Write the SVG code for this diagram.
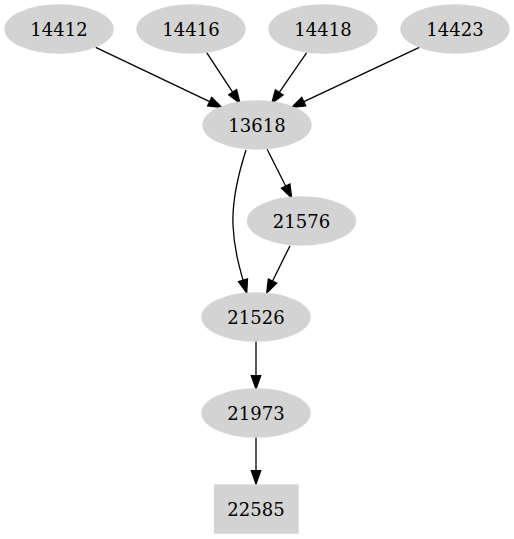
<svg xmlns="http://www.w3.org/2000/svg" width="514" height="539" viewBox="0 0 514 539">
<style>
.n{fill:#d3d3d3;stroke:#d3d3d3;stroke-width:1.3}
.t{font-family:"DejaVu Serif",serif;font-size:18px;fill:#000;text-anchor:middle}
.e{fill:none;stroke:#000;stroke-width:1.3;marker-end:url(#a)}
</style>
<defs>
<marker id="a" markerUnits="userSpaceOnUse" markerWidth="14" markerHeight="10" refX="13.3" refY="4.7" orient="auto" overflow="visible">
<path d="M0,0 L13.3,4.7 L0,9.4 z" fill="#000" stroke="#000" stroke-width="1.3"/>
</marker>
</defs>
<rect width="514" height="539" fill="#fff"/>
<g id="edges">
<path class="e" d="M95.7,47.3 L221.7,107.3"/>
<path class="e" d="M206.7,52.7 L240,103.3"/>
<path class="e" d="M306.7,52.7 L271.7,103.3"/>
<path class="e" d="M419.3,47.3 L291.7,107.3"/>
<path class="e" d="M246,150 C238,175 232,200 233,225 C234,250 240,270 246.7,293"/>
<path class="e" d="M267,149 L291.7,198"/>
<path class="e" d="M290,245.7 L266.7,293"/>
<path class="e" d="M256,341 L256,389"/>
<path class="e" d="M256,437 L256,484"/>
</g>
<g id="n14412"><ellipse class="n" cx="59" cy="29" rx="54" ry="24"/><text class="t" x="59" y="35.5">14412</text></g>
<g id="n14416"><ellipse class="n" cx="191" cy="29" rx="54" ry="24"/><text class="t" x="191" y="35.5">14416</text></g>
<g id="n14418"><ellipse class="n" cx="323" cy="29" rx="54" ry="24"/><text class="t" x="323" y="35.5">14418</text></g>
<g id="n14423"><ellipse class="n" cx="455" cy="29" rx="54" ry="24"/><text class="t" x="455" y="35.5">14423</text></g>
<g id="n13618"><ellipse class="n" cx="257" cy="125" rx="54" ry="24"/><text class="t" x="257" y="131.5">13618</text></g>
<g id="n21576"><ellipse class="n" cx="301.5" cy="221" rx="54" ry="24"/><text class="t" x="301.5" y="227.5">21576</text></g>
<g id="n21526"><ellipse class="n" cx="256" cy="317" rx="54" ry="24"/><text class="t" x="256" y="323.5">21526</text></g>
<g id="n21973"><ellipse class="n" cx="256" cy="413" rx="54" ry="24"/><text class="t" x="256" y="419.5">21973</text></g>
<g id="n22585"><rect class="n" x="214.5" y="485" width="83.5" height="48"/><text class="t" x="256" y="515.5">22585</text></g>
</svg>
